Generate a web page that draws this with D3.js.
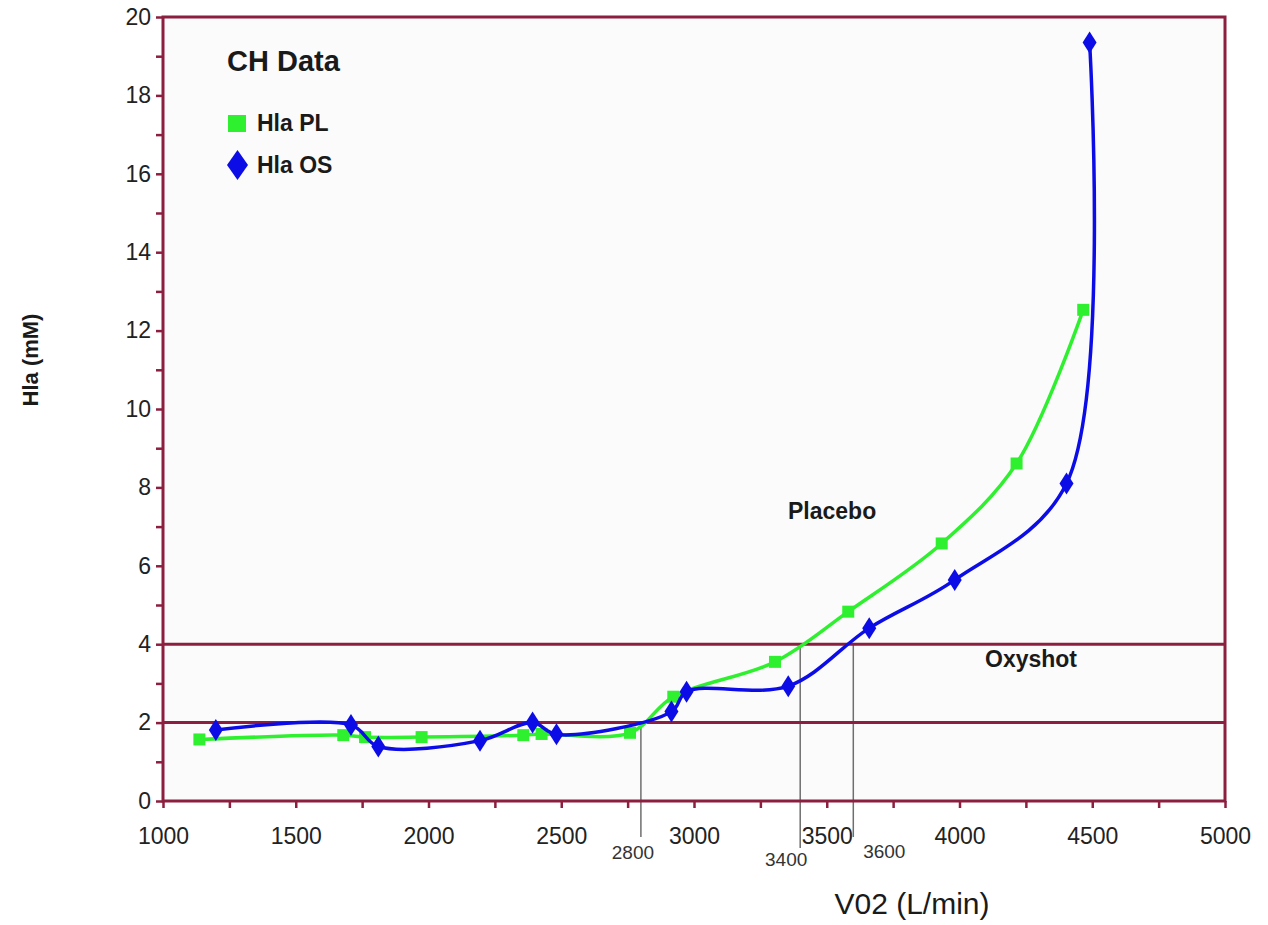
<!DOCTYPE html>
<html>
<head>
<meta charset="utf-8">
<script src="https://cdn.jsdelivr.net/npm/d3@7"></script>
<style>
  html, body { margin: 0; padding: 0; background: #ffffff; }
  svg { display: block; font-family: "Liberation Sans", Arial, Helvetica, sans-serif; }
</style>
</head>
<body>
<svg id="chart" width="1268" height="925"></svg>
<script>
// Blood lactate (Hla) against oxygen uptake, placebo vs. Oxyshot
const vo2PL = [1137, 1679, 1761, 1974, 2357, 2426, 2759, 2922, 3305, 3581, 3933, 4215, 4466];
const hlaPL = [1.57, 1.68, 1.63, 1.63, 1.68, 1.71, 1.74, 2.66, 3.55, 4.83, 6.57, 8.61, 12.53];

const vo2OS = [1199, 1708, 1811, 2194, 2392, 2482, 2915, 2972, 3355, 3660, 3982, 4403, 4490];
const hlaOS = [1.81, 1.94, 1.39, 1.54, 2.00, 1.70, 2.28, 2.79, 2.93, 4.41, 5.64, 8.10, 19.35];

const xTickValues = d3.range(1000, 5001, 250);
const xTickLabels = [1000, 1500, 2000, 2500, 3000, 3500, 4000, 4500, 5000];
const yTickValues = d3.range(0, 21, 1);
const yTickLabels = [0, 2, 4, 6, 8, 10, 12, 14, 16, 18, 20];

const thresholdLevels = [2, 4];
const crossVO2 = [2800, 3400, 3600];
const crossLevel = [2, 4, 4];
const crossLabels = ["2800", "3400", "3600"];

const maroon = "#8c1f3f";
const green = "#2ef02e";
const blue = "#0c0ce6";

const svg = d3.select("#chart");
const x = d3.scaleLinear().domain([1000, 5000]).range([163, 1225]);
const y = d3.scaleLinear().domain([0, 20]).range([801, 17]);

// plot area
svg.append("rect")
  .attr("x", x(1000)).attr("y", y(20))
  .attr("width", x(5000) - x(1000)).attr("height", y(0) - y(20))
  .attr("fill", "#fbfbfb");

// drop lines from the threshold crossings to the VO2 axis
const dropBottom = [837, 848, 837];
const dropLabelDx = [-8, -14, 31];
const dropLabelY = [859, 866, 858];
svg.append("g").selectAll("line")
  .data(crossVO2)
  .join("line")
  .attr("x1", d => x(d)).attr("x2", d => x(d))
  .attr("y1", (d, i) => y(crossLevel[i]))
  .attr("y2", (d, i) => dropBottom[i])
  .attr("stroke", "#6e6e6e").attr("stroke-width", 1.5);

svg.append("g").selectAll("text")
  .data(crossVO2)
  .join("text")
  .attr("x", (d, i) => x(d) + dropLabelDx[i])
  .attr("y", (d, i) => dropLabelY[i])
  .attr("text-anchor", "middle")
  .attr("font-size", 19)
  .attr("fill", "#333")
  .text((d, i) => crossLabels[i]);

// threshold lines
svg.append("g").selectAll("line")
  .data(thresholdLevels)
  .join("line")
  .attr("x1", x(1000)).attr("x2", x(5000))
  .attr("y1", d => y(d)).attr("y2", d => y(d))
  .attr("stroke", maroon).attr("stroke-width", 3);

// axes
const yAxis = d3.axisLeft(y)
  .tickValues(yTickValues)
  .tickSize(7).tickPadding(5)
  .tickFormat(d => yTickLabels.includes(d) ? d : "");
const gy = svg.append("g").attr("transform", `translate(${x(1000)},0)`).call(yAxis);

const xAxis = d3.axisBottom(x)
  .tickValues(xTickValues)
  .tickSize(7).tickPadding(20)
  .tickFormat(d => xTickLabels.includes(d) ? d : "");
const gx = svg.append("g").attr("transform", `translate(0,${y(0)})`).call(xAxis);

[gx, gy].forEach(g => {
  g.select(".domain").remove();
  g.selectAll(".tick line").attr("stroke", maroon).attr("stroke-width", 2.5);
  g.selectAll(".tick text").attr("font-size", 23).attr("fill", "#222")
    .attr("font-family", "'Liberation Sans', Arial, sans-serif");
});

// frame
svg.append("rect")
  .attr("x", x(1000)).attr("y", y(20))
  .attr("width", x(5000) - x(1000)).attr("height", y(0) - y(20))
  .attr("fill", "none").attr("stroke", maroon).attr("stroke-width", 3);

// series
const seriesPL = vo2PL.map((v, i) => [v, hlaPL[i]]);
const seriesOS = vo2OS.map((v, i) => [v, hlaOS[i]]);
const line = d3.line().x(d => x(d[0])).y(d => y(d[1])).curve(d3.curveCatmullRom.alpha(0.5));

svg.append("path").datum(seriesPL)
  .attr("d", line).attr("fill", "none")
  .attr("stroke", green).attr("stroke-width", 3.5);
svg.append("g").selectAll("rect")
  .data(seriesPL).join("rect")
  .attr("x", d => x(d[0]) - 6).attr("y", d => y(d[1]) - 6)
  .attr("width", 12).attr("height", 12)
  .attr("fill", green);

svg.append("path").datum(seriesOS)
  .attr("d", line).attr("fill", "none")
  .attr("stroke", blue).attr("stroke-width", 3.5);
const diamond = (w, h) => `M0,${-h / 2}L${w / 2},0L0,${h / 2}L${-w / 2},0Z`;
svg.append("g").selectAll("path")
  .data(seriesOS).join("path")
  .attr("transform", d => `translate(${x(d[0])},${y(d[1])})`)
  .attr("d", diamond(14, 22))
  .attr("fill", blue);

// title and legend
svg.append("text").attr("x", 227).attr("y", 71)
  .attr("font-size", 29).attr("font-weight", "bold").attr("fill", "#1a1a1a")
  .text("CH Data");

svg.append("rect").attr("x", 228).attr("y", 115).attr("width", 18).attr("height", 17).attr("fill", green);
svg.append("text").attr("x", 257).attr("y", 131)
  .attr("font-size", 23).attr("font-weight", "bold").attr("fill", "#1a1a1a")
  .text("Hla PL");

svg.append("path").attr("transform", "translate(237.5,165)").attr("d", diamond(21, 30)).attr("fill", blue);
svg.append("text").attr("x", 257).attr("y", 173)
  .attr("font-size", 23).attr("font-weight", "bold").attr("fill", "#1a1a1a")
  .text("Hla OS");

// curve annotations
svg.append("text").attr("x", 788).attr("y", 519)
  .attr("font-size", 23).attr("font-weight", "bold").attr("fill", "#1a1a1a")
  .text("Placebo");
svg.append("text").attr("x", 985).attr("y", 667)
  .attr("font-size", 23).attr("font-weight", "bold").attr("fill", "#1a1a1a")
  .text("Oxyshot");

// axis titles
svg.append("text")
  .attr("transform", "translate(38,360) rotate(-90)")
  .attr("text-anchor", "middle")
  .attr("font-size", 22).attr("font-weight", "bold").attr("fill", "#1a1a1a")
  .text("Hla (mM)");
svg.append("text").attr("x", 912).attr("y", 914)
  .attr("text-anchor", "middle")
  .attr("font-size", 30).attr("fill", "#1a1a1a")
  .text("V02 (L/min)");
</script>
</body>
</html>
